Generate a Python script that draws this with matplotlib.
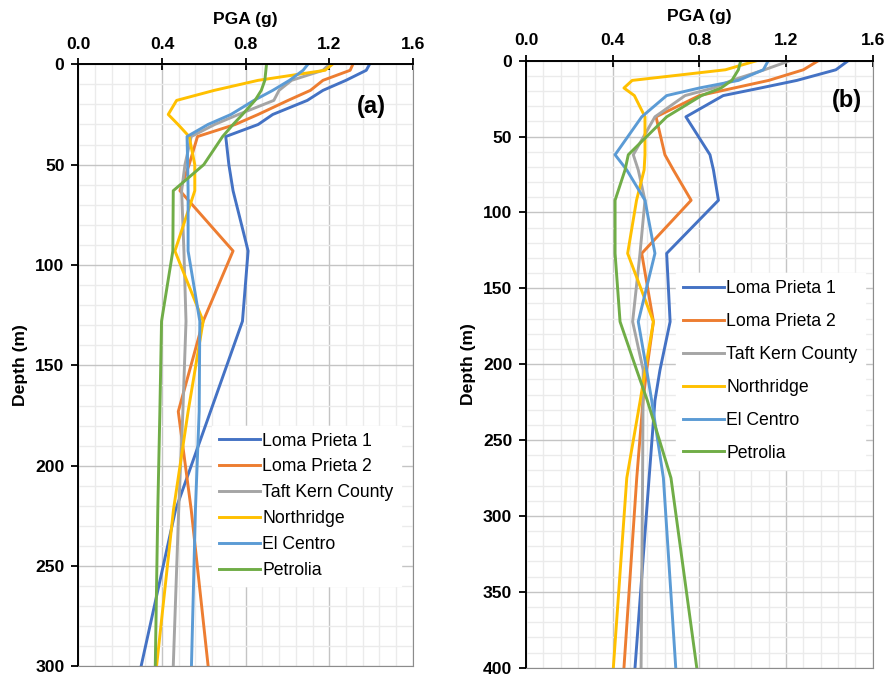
import numpy as np
import matplotlib
matplotlib.use("Agg")
import matplotlib.pyplot as plt
from matplotlib.ticker import MultipleLocator, FormatStrFormatter

plt.rcParams['font.family'] = ['Liberation Sans', 'DejaVu Sans']

names = ["Loma Prieta 1", "Loma Prieta 2", "Taft Kern County",
         "Northridge", "El Centro", "Petrolia"]
colors = ["#4472C4", "#ED7D31", "#A5A5A5", "#FFC000", "#5B9BD5", "#70AD47"]

# panel (a): depth (m) and PGA (g)
depth_a = [0, 3, 8, 13, 18, 25, 30, 36, 50, 63, 93, 128, 173, 222, 300]
lp1_a = [1.393, 1.377, 1.28, 1.17, 1.095, 0.93, 0.86, 0.705, 0.72, 0.74, 0.812, 0.785, 0.632, 0.465, 0.30]
lp2_a = [1.313, 1.30, 1.17, 1.11, 1.003, 0.86, 0.75, 0.57, 0.53, 0.486, 0.74, 0.597, 0.478, 0.54, 0.621]
taft_a = [1.20, 1.17, 1.02, 0.96, 0.935, 0.766, 0.652, 0.54, 0.51, 0.494, 0.505, 0.515, 0.50, 0.48, 0.454]
north_a = [1.215, 1.18, 0.86, 0.65, 0.47, 0.43, 0.477, 0.53, 0.557, 0.557, 0.462, 0.597, 0.525, 0.455, 0.374]
elc_a = [1.098, 1.075, 1.01, 0.93, 0.84, 0.73, 0.62, 0.52, 0.523, 0.525, 0.525, 0.581, 0.578, 0.56, 0.541]
pet_a = [0.90, 0.897, 0.892, 0.875, 0.845, 0.785, 0.74, 0.69, 0.60, 0.454, 0.452, 0.398, 0.39, 0.38, 0.368]

# panel (b)
depth_b = [0, 6, 13, 18, 23, 37, 62, 72, 92, 127, 172, 204, 224, 275, 400]
lp1_b = [1.487, 1.43, 1.25, 1.082, 0.91, 0.738, 0.849, 0.865, 0.888, 0.649, 0.665, 0.618, 0.595, 0.568, 0.503]
lp2_b = [1.349, 1.28, 1.12, 0.96, 0.80, 0.60, 0.641, 0.68, 0.762, 0.534, 0.588, 0.557, 0.54, 0.511, 0.452]
taft_b = [1.218, 1.10, 0.95, 0.864, 0.734, 0.595, 0.495, 0.518, 0.549, 0.526, 0.492, 0.541, 0.54, 0.538, 0.531]
north_b = [1.065, 0.92, 0.49, 0.452, 0.50, 0.549, 0.549, 0.545, 0.51, 0.469, 0.588, 0.55, 0.527, 0.465, 0.403]
elc_b = [1.118, 1.095, 0.98, 0.80, 0.649, 0.534, 0.411, 0.465, 0.549, 0.595, 0.518, 0.557, 0.58, 0.634, 0.691]
pet_b = [0.991, 0.98, 0.95, 0.90, 0.81, 0.649, 0.472, 0.457, 0.411, 0.411, 0.434, 0.511, 0.56, 0.669, 0.788]

series_a = [lp1_a, lp2_a, taft_a, north_a, elc_a, pet_a]
series_b = [lp1_b, lp2_b, taft_b, north_b, elc_b, pet_b]


def draw_panel(ax, depth, series, ymax, label, label_pos, legend_box, legend_space):
    for vals, name, c in zip(series, names, colors):
        ax.plot(vals, depth, color=c, lw=2.1, label=name, solid_joinstyle='round')

    ax.set_xlim(0, 1.6)
    ax.set_ylim(ymax, 0)
    ax.xaxis.tick_top()
    ax.xaxis.set_label_position('top')
    ax.xaxis.set_major_locator(MultipleLocator(0.4))
    ax.xaxis.set_minor_locator(MultipleLocator(0.08))
    ax.xaxis.set_major_formatter(FormatStrFormatter('%.1f'))
    ax.yaxis.set_major_locator(MultipleLocator(50))
    ax.yaxis.set_minor_locator(MultipleLocator(10))

    ax.grid(which='major', color='#c4c4c4', lw=1.0)
    ax.grid(which='minor', color='#ebebeb', lw=1.0)
    ax.set_axisbelow(True)

    ax.tick_params(axis='x', which='major', direction='inout', length=8, width=1.3,
                   labelsize=12.6, pad=5)
    ax.tick_params(axis='y', which='major', direction='out', length=5, width=1.3,
                   labelsize=12.6, pad=5)
    ax.tick_params(which='minor', length=0)
    for t in ax.get_xticklabels() + ax.get_yticklabels():
        t.set_fontweight('bold')

    ax.spines['top'].set_color('black')
    ax.spines['top'].set_linewidth(1.4)
    ax.spines['left'].set_color('black')
    ax.spines['left'].set_linewidth(1.4)
    ax.spines['right'].set_color('#8c8c8c')
    ax.spines['bottom'].set_color('#8c8c8c')

    ax.set_xlabel("PGA (g)", fontsize=12.6, fontweight='bold', labelpad=9)
    ax.set_ylabel("Depth (m)", fontsize=12.6, fontweight='bold', labelpad=5)

    ax.text(label_pos[0], label_pos[1], label, fontsize=17, fontweight='bold',
            ha='center', va='center')

    leg = ax.legend(loc='upper left', bbox_to_anchor=legend_box, frameon=True,
                    fontsize=12.7, handlelength=2.3, handletextpad=0.15,
                    labelspacing=legend_space, borderpad=0.4, borderaxespad=0,
                    fancybox=False)
    leg.get_frame().set_edgecolor('white')
    leg.get_frame().set_alpha(1.0)


fig = plt.figure(figsize=(8.86, 6.78), dpi=100)
ax_a = fig.add_axes([0.0884, 0.017, 0.3776, 0.8882])
ax_b = fig.add_axes([0.5937, 0.0152, 0.3913, 0.8953])

draw_panel(ax_a, depth_a, series_a, 300, "(a)", (1.40, 21), (0.40, 0.40), 0.5)
draw_panel(ax_b, depth_b, series_b, 400, "(b)", (1.48, 26), (0.433, 0.65), 0.9)

fig.savefig("out.png", dpi=100)
